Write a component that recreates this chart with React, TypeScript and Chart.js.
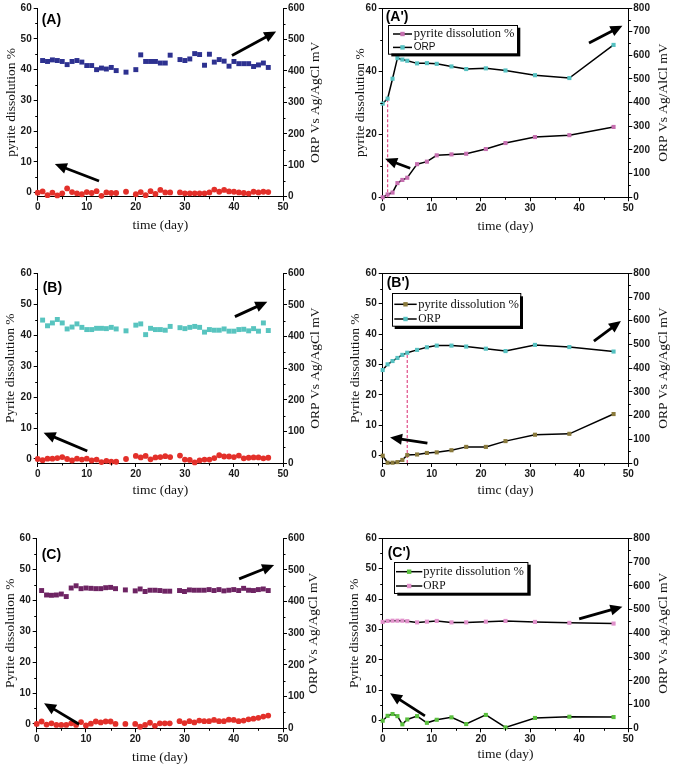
import React, { useEffect, useRef } from "react";
import { Chart, registerables } from "chart.js";
Chart.register(...registerables);

// ---------------- data ----------------
const scatterOrpDays = [1, 2, 3, 4, 5, 6, 7, 8, 9, 10, 11, 12, 13, 14, 15, 16, 18, 20, 21, 22, 23, 24, 25, 26, 27, 29, 30, 31, 32, 33, 34, 35, 36, 37, 38, 39, 40, 41, 42, 43, 44, 45, 46, 47];
const scatterPyrDays = [0, 1, 2, 3, 4, 5, 6, 7, 8, 9, 10, 11, 12, 13, 14, 15, 16, 18, 20, 21, 22, 23, 24, 25, 26, 27, 29, 30, 31, 32, 33, 34, 35, 36, 37, 38, 39, 40, 41, 42, 43, 44, 45, 46, 47];
const sampleDays = [0, 1, 2, 3, 4, 5, 7, 9, 11, 14, 17, 21, 25, 31, 38, 47];

const aOrp = [433, 430, 435, 433, 430, 420, 430, 433, 428, 417, 417, 404, 409, 406, 411, 401, 396, 404, 451, 430, 430, 430, 425, 425, 450, 436, 433, 438, 455, 452, 418, 453, 428, 436, 431, 415, 430, 423, 423, 423, 414, 419, 425, 411];
const aPyr = [0, 0.4, -0.8, 0, -0.9, -0.2, 1.4, 0.2, -0.2, -0.5, 0.2, -0.1, 0.5, -1.0, 0.1, -0.1, -0.1, 0.3, -0.5, 0.2, -0.8, 0.5, -0.4, 0.9, 0.1, 0.1, 0.1, -0.2, -0.2, -0.2, -0.2, -0.2, 0.1, 1.0, 0.3, 0.9, 0.4, 0.3, 0.1, -0.1, -0.3, 0.3, 0.1, 0.3, 0.2];

const bOrp = [452, 434, 443, 454, 443, 424, 430, 440, 429, 422, 422, 426, 426, 425, 429, 424, 418, 436, 440, 406, 426, 422, 422, 420, 432, 428, 425, 429, 432, 429, 414, 422, 420, 420, 424, 417, 417, 422, 423, 418, 425, 417, 443, 419];
const bPyr = [0, -0.4, 0.1, 0.1, 0.3, 0.6, 0, -0.5, 0.1, -0.2, 0.1, -0.5, -0.2, -1.0, -0.6, -0.9, -0.9, 0, 1.0, 0.5, 1.0, -0.1, 0.5, 0.6, 0.9, 0.6, 1.1, -0.2, -0.3, -1.1, -0.5, -0.2, -0.2, 0.3, 1.2, 0.8, 0.8, 0.6, 1.1, 0.2, 0.4, 0.5, 0.5, 0.2, 0.4];

const cOrp = [435, 421, 420, 421, 424, 416, 443, 450, 441, 443, 442, 441, 441, 444, 445, 441, 437, 434, 440, 432, 436, 436, 435, 433, 433, 435, 432, 437, 436, 436, 436, 438, 435, 438, 434, 436, 438, 435, 442, 436, 435, 438, 440, 435];
const cPyr = [0, 0.8, -0.2, 0.2, -0.3, -0.3, -0.3, 0.2, -0.3, 0.6, -0.5, 0.1, 0.8, 0.5, 0.8, 0.8, 0, 0, 0, -0.9, -0.3, 0.4, -0.6, 0.2, 0.2, 0.2, 0.9, 0.3, 0.9, 0.5, 1.1, 0.9, 0.9, 1.3, 0.9, 0.9, 1.4, 1.3, 0.9, 1.1, 1.5, 1.7, 2.0, 2.4, 2.7];

const a2Pyr = [0, 0.9, 1.5, 4.5, 5.5, 6.2, 10.5, 11.3, 13.3, 13.6, 13.8, 15.3, 17.2, 19.1, 19.7, 22.3];
const a2Orp = [396, 417, 501, 588, 582, 577, 566, 567, 564, 553, 542, 545, 536, 516, 504, 644];
const b2Pyr = [0, -2.3, -2.3, -2.1, -1.4, 0.2, 0.4, 0.9, 1.1, 1.8, 2.9, 2.9, 4.8, 6.9, 7.2, 13.7];
const b2Orp = [392, 416, 430, 443, 456, 465, 477, 488, 495, 495, 491, 482, 472, 498, 489, 470];
const c2Pyr = [0, 1.6, 2.2, 1.5, -1.2, 0.4, 1.5, -0.7, 0.3, 1.1, -1.1, 1.9, -2.2, 0.9, 1.3, 1.2];
const c2Orp = [448, 452, 453, 453, 453, 451, 446, 449, 452, 446, 446, 449, 452, 448, 444, 441];

const a2MarkDay = [1, 1];
const a2MarkOrp = [0, 417];
const b2MarkDay = [5, 5];
const b2MarkOrp = [0, 465];

const xTicks = [0, 10, 20, 30, 40, 50];
const leftTicks10 = [0, 10, 20, 30, 40, 50, 60];
const leftTicks20 = [0, 20, 40, 60];
const rightTicks600 = [0, 100, 200, 300, 400, 500, 600];
const rightTicks800 = [0, 100, 200, 300, 400, 500, 600, 700, 800];

// ---------------- helpers ----------------
const SANS = "'Liberation Sans', Arial, sans-serif";
const SERIF = "'Liberation Serif', 'Times New Roman', serif";
const RED = "#e3302a";

const pts = (xs: number[], ys: number[]) => xs.map((x, i) => ({ x, y: ys[i] }));

function scatterSet(label: string, xs: number[], ys: number[], color: string, style: string, r: number, axis: string) {
  return {
    label, data: pts(xs, ys), yAxisID: axis, showLine: false, pointStyle: style, pointRadius: r,
    pointBackgroundColor: color, pointBorderColor: color, pointBorderWidth: 0, borderWidth: 0, clip: false,
  };
}
function lineSet(label: string, xs: number[], ys: number[], color: string, axis: string) {
  return {
    label, data: pts(xs, ys), yAxisID: axis, showLine: true, borderColor: "#000", borderWidth: 1.5,
    pointStyle: "rect", pointRadius: 2.9, pointBackgroundColor: color, pointBorderColor: color,
    pointBorderWidth: 0, tension: 0, clip: false, order: 1,
  };
}
function dashSet(xs: number[], ys: number[]) {
  return {
    label: "", data: pts(xs, ys), yAxisID: "y1", showLine: true, borderColor: "#e0508a", borderWidth: 1.2,
    borderDash: [3, 2], pointRadius: 0, tension: 0, clip: false, order: 10,
  };
}

type Box = { left: number; top: number; width: number; height: number };
type Area = { l: number; t: number; r: number; b: number };
type Legend = { dx: number; dy: number; w: number; h: number; lx0: number; lx1: number; tx: number; rows: number[]; fonts: string[] };
type Panel = {
  key: string; box: Box; area: Area; leftMin: number; leftTicks: number[]; rightMax: number; rightTicks: number[];
  xTitle: string; yTitle: string; y1Title: string; titles: { lx: number; rx: number; xy: number };
  label: string; labelOff: [number, number]; arrows: number[][]; datasets: any[]; legend?: Legend; topBorder: boolean;
};

const panels: Panel[] = [
  {
    key: "A", box: { left: 0, top: 0, width: 337, height: 250 }, area: { l: 37.7, t: 7.3, r: 283, b: 196.7 },
    leftMin: -1.3, leftTicks: leftTicks10, rightMax: 600, rightTicks: rightTicks600, topBorder: false,
    xTitle: "time (day)", yTitle: "pyrite dissolution %", y1Title: "ORP Vs Ag/AgCl mV", titles: { lx: 11, rx: 315, xy: 225 },
    label: "(A)", labelOff: [4, 12], arrows: [[39.6, 44.6, 48.6, 52.4], [12.5, 3.8, 3.5, 9.3]],
    datasets: [scatterSet("ORP", scatterOrpDays, aOrp, "#2d3190", "rect", 3.5, "y1"), scatterSet("pyrite", scatterPyrDays, aPyr, RED, "circle", 2.9, "y")],
  },
  {
    key: "A2", box: { left: 337, top: 0, width: 338, height: 250 }, area: { l: 382.7, t: 7.3, r: 628.3, b: 197.3 },
    leftMin: 0, leftTicks: leftTicks20, rightMax: 800, rightTicks: rightTicks800, topBorder: true,
    xTitle: "time (day)", yTitle: "pyrite dissolution %", y1Title: "ORP Vs Ag/AlCl mV", titles: { lx: 360, rx: 663, xy: 226.5 },
    label: "(A')", labelOff: [3, 9.5], arrows: [[42, 48.9, 48.8, 54.4], [5.6, 9.2, 0.5, 12.2]],
    datasets: [lineSet("pyrite dissolution %", sampleDays, a2Pyr, "#c66fb0", "y"), lineSet("ORP", sampleDays, a2Orp, "#55c1c1", "y1"), dashSet(a2MarkDay, a2MarkOrp)],
    legend: { dx: 5.6, dy: 16.7, w: 129, h: 28.7, lx0: 4.7, lx1: 23.7, tx: 25.5, rows: [9.3, 22.7], fonts: [`12.5px ${SERIF}`, `10px ${SANS}`] },
  },
  {
    key: "B", box: { left: 0, top: 255, width: 337, height: 250 }, area: { l: 37.7, t: 273.3, r: 283, b: 463 },
    leftMin: -1.3, leftTicks: leftTicks10, rightMax: 600, rightTicks: rightTicks600, topBorder: false,
    xTitle: "timc (day)", yTitle: "Pyrite dissolution %", y1Title: "ORP Vs Ag/AgCl mV", titles: { lx: 10, rx: 315, xy: 490 },
    label: "(B)", labelOff: [5, 14.5], arrows: [[40.2, 46, 46.8, 50.8], [10.1, 2.6, 1.2, 8.5]],
    datasets: [scatterSet("ORP", scatterOrpDays, bOrp, "#58c4bf", "rect", 3.5, "y1"), scatterSet("pyrite", scatterPyrDays, bPyr, RED, "circle", 2.9, "y")],
  },
  {
    key: "B2", box: { left: 337, top: 255, width: 338, height: 250 }, area: { l: 382.7, t: 273.3, r: 628.3, b: 463 },
    leftMin: -2.4, leftTicks: leftTicks10, rightMax: 800, rightTicks: rightTicks800, topBorder: true,
    xTitle: "timc (day)", yTitle: "Pyrite dissolution %", y1Title: "ORP Vs Ag/AgCl mV", titles: { lx: 355, rx: 663, xy: 490 },
    label: "(B')", labelOff: [4, 9.7], arrows: [[43, 37.7, 48.5, 44.3], [9.1, 4.1, 1.5, 6.0]],
    datasets: [lineSet("pyrite dissolution %", sampleDays, b2Pyr, "#8a7a3c", "y"), lineSet("ORP", sampleDays, b2Orp, "#55c1c1", "y1"), dashSet(b2MarkDay, b2MarkOrp)],
    legend: { dx: 9, dy: 20, w: 128.3, h: 32.7, lx0: 2.6, lx1: 25, tx: 26.6, rows: [11, 25.7], fonts: [`12.5px ${SERIF}`, `11.5px ${SERIF}`] },
  },
  {
    key: "C", box: { left: 0, top: 510, width: 337, height: 257 }, area: { l: 36.7, t: 538.3, r: 283, b: 728.3 },
    leftMin: -1.4, leftTicks: leftTicks10, rightMax: 600, rightTicks: rightTicks600, topBorder: false,
    xTitle: "time (day)", yTitle: "Pyrite dissolution %", y1Title: "ORP Vs Ag/AgCl mV", titles: { lx: 10, rx: 313, xy: 757 },
    label: "(C)", labelOff: [5, 16.4], arrows: [[41.1, 46.9, 48.2, 51.4], [8.6, -0.1, 1.5, 6.7]],
    datasets: [scatterSet("ORP", scatterOrpDays, cOrp, "#6e2463", "rect", 3.5, "y1"), scatterSet("pyrite", scatterPyrDays, cPyr, RED, "circle", 2.9, "y")],
  },
  {
    key: "C2", box: { left: 337, top: 510, width: 338, height: 257 }, area: { l: 382.7, t: 538.3, r: 628.3, b: 728.3 },
    leftMin: -2.5, leftTicks: leftTicks10, rightMax: 800, rightTicks: rightTicks800, topBorder: true,
    xTitle: "time (day)", yTitle: "Pyrite dissolution %", y1Title: "ORP Vs Ag/AgCl mV", titles: { lx: 354, rx: 663, xy: 754 },
    label: "(C')", labelOff: [5, 14.5], arrows: [[40, 33.5, 48.8, 37.5], [8.6, 1.6, 1.5, 9.0]],
    datasets: [lineSet("pyrite dissolution %", sampleDays, c2Pyr, "#5abf3e", "y"), lineSet("ORP", sampleDays, c2Orp, "#e191cb", "y1")],
    legend: { dx: 11.6, dy: 23.4, w: 133.4, h: 31, lx0: 1.7, lx1: 28, tx: 29, rows: [10, 24.3], fonts: [`12.5px ${SERIF}`, `11.5px ${SERIF}`] },
  },
];

function drawArrow(ctx: CanvasRenderingContext2D, x1: number, y1: number, x2: number, y2: number) {
  const ang = Math.atan2(y2 - y1, x2 - x1);
  const hl = 12, hw = 5.5;
  const c = Math.cos(ang), s = Math.sin(ang);
  const bx = x2 - hl * c, by = y2 - hl * s;
  ctx.save();
  ctx.strokeStyle = "#000";
  ctx.fillStyle = "#000";
  ctx.lineWidth = 2.8;
  ctx.beginPath();
  ctx.moveTo(x1, y1);
  ctx.lineTo(bx + c, by + s);
  ctx.stroke();
  ctx.beginPath();
  ctx.moveTo(x2, y2);
  ctx.lineTo(bx - hw * s, by + hw * c);
  ctx.lineTo(bx + hw * s, by - hw * c);
  ctx.closePath();
  ctx.fill();
  ctx.restore();
}

function makeDecor(p: Panel) {
  return {
    id: "decor" + p.key,
    afterDraw(chart: any) {
      const ctx: CanvasRenderingContext2D = chart.ctx;
      const ca = chart.chartArea;
      const sx = chart.scales.x, sy = chart.scales.y, sy1 = chart.scales.y1;
      ctx.save();
      // minor ticks + optional top border
      ctx.strokeStyle = "#000";
      ctx.lineWidth = 1;
      ctx.beginPath();
      for (let i = 0; i < xTicks.length - 1; i++) {
        const px = Math.round(sx.getPixelForValue((xTicks[i] + xTicks[i + 1]) / 2)) + 0.5;
        ctx.moveTo(px, ca.bottom); ctx.lineTo(px, ca.bottom + 2.5);
      }
      for (let i = 0; i < p.leftTicks.length - 1; i++) {
        const py = Math.round(sy.getPixelForValue((p.leftTicks[i] + p.leftTicks[i + 1]) / 2)) + 0.5;
        ctx.moveTo(ca.left, py); ctx.lineTo(ca.left - 2.5, py);
      }
      for (let i = 0; i < p.rightTicks.length - 1; i++) {
        const py = Math.round(sy1.getPixelForValue((p.rightTicks[i] + p.rightTicks[i + 1]) / 2)) + 0.5;
        ctx.moveTo(ca.right, py); ctx.lineTo(ca.right + 2.5, py);
      }
      if (p.topBorder) {
        const ty = Math.round(ca.top) + 0.5;
        ctx.moveTo(ca.left, ty); ctx.lineTo(ca.right, ty);
      }
      ctx.stroke();

      // axis titles
      ctx.fillStyle = "#111";
      ctx.font = `13.5px ${SERIF}`;
      ctx.textAlign = "center";
      ctx.textBaseline = "middle";
      const cy = (ca.top + ca.bottom) / 2;
      ctx.save(); ctx.translate(p.titles.lx - p.box.left, cy); ctx.rotate(-Math.PI / 2); ctx.fillText(p.yTitle, 0, 0); ctx.restore();
      ctx.save(); ctx.translate(p.titles.rx - p.box.left, cy); ctx.rotate(-Math.PI / 2); ctx.fillText(p.y1Title, 0, 0); ctx.restore();
      ctx.fillText(p.xTitle, (ca.left + ca.right) / 2, p.titles.xy - p.box.top);

      // panel label
      ctx.font = `bold 14px ${SANS}`;
      ctx.textAlign = "left";
      ctx.fillStyle = "#000";
      ctx.fillText(p.label, ca.left + p.labelOff[0], ca.top + p.labelOff[1]);

      // arrows
      for (const a of p.arrows) {
        drawArrow(ctx, sx.getPixelForValue(a[0]), sy.getPixelForValue(a[1]), sx.getPixelForValue(a[2]), sy.getPixelForValue(a[3]));
      }

      // legend
      const lg = p.legend;
      if (lg) {
        const bx = ca.left + lg.dx, by = ca.top + lg.dy;
        ctx.fillStyle = "#000";
        ctx.fillRect(bx + 3, by + 3, lg.w, lg.h);
        ctx.fillStyle = "#fff";
        ctx.fillRect(bx, by, lg.w, lg.h);
        ctx.strokeStyle = "#000";
        ctx.lineWidth = 1;
        ctx.strokeRect(Math.round(bx) + 0.5, Math.round(by) + 0.5, lg.w, lg.h);
        for (let i = 0; i < 2; i++) {
          const ds = p.datasets[i];
          const ry = by + lg.rows[i];
          ctx.strokeStyle = "#000";
          ctx.lineWidth = 1.5;
          ctx.beginPath();
          ctx.moveTo(bx + lg.lx0, ry); ctx.lineTo(bx + lg.lx1, ry);
          ctx.stroke();
          ctx.fillStyle = ds.pointBackgroundColor;
          const mx = bx + (lg.lx0 + lg.lx1) / 2;
          ctx.fillRect(mx - 2.2, ry - 2.2, 4.4, 4.4);
          ctx.fillStyle = "#111";
          ctx.font = lg.fonts[i];
          ctx.textAlign = "left";
          ctx.textBaseline = "middle";
          ctx.fillText(ds.label, bx + lg.tx, ry);
        }
      }
      ctx.restore();
    },
  };
}

function axisCommon() {
  return {
    ticks: { font: { family: SANS, size: 10, weight: "bold" }, color: "#1a1a1a", autoSkip: false, maxRotation: 0, callback: (v: any) => String(v) },
    grid: { drawOnChartArea: false, drawTicks: true, tickLength: 4, color: "#000", lineWidth: 1 },
    border: { display: true, color: "#000", width: 1 },
    title: { display: false },
  };
}

function buildConfig(p: Panel): any {
  const base = axisCommon();
  return {
    type: "line",
    data: { datasets: p.datasets },
    options: {
      animation: false,
      responsive: false,
      maintainAspectRatio: false,
      events: [],
      layout: { padding: { top: p.area.t - p.box.top, left: 0, right: 0, bottom: 0 } },
      plugins: { legend: { display: false }, tooltip: { enabled: false } },
      scales: {
        x: {
          ...base, type: "linear", min: 0, max: 50, ticks: { ...base.ticks, padding: 1 },
          afterBuildTicks: (s: any) => { s.ticks = xTicks.map((v) => ({ value: v })); },
          afterFit: (s: any) => { s.height = p.box.top + p.box.height - p.area.b; },
        },
        y: {
          ...base, type: "linear", position: "left", min: p.leftMin, max: 60, ticks: { ...base.ticks, padding: 2 },
          afterBuildTicks: (s: any) => { s.ticks = p.leftTicks.map((v) => ({ value: v })); },
          afterFit: (s: any) => { s.width = p.area.l - p.box.left; },
        },
        y1: {
          ...base, type: "linear", position: "right", min: 0, max: p.rightMax, ticks: { ...base.ticks, padding: 1 },
          afterBuildTicks: (s: any) => { s.ticks = p.rightTicks.map((v) => ({ value: v })); },
          afterFit: (s: any) => { s.width = p.box.left + p.box.width - p.area.r; },
        },
      },
    },
    plugins: [makeDecor(p)],
  };
}

function PanelChart({ p }: { p: Panel }) {
  const ref = useRef<HTMLCanvasElement>(null);
  useEffect(() => {
    const chart = new Chart(ref.current as HTMLCanvasElement, buildConfig(p));
    return () => chart.destroy();
  }, [p]);
  return (
    <div style={{ position: "absolute", left: p.box.left, top: p.box.top, width: p.box.width, height: p.box.height }}>
      <canvas ref={ref} width={p.box.width} height={p.box.height} style={{ display: "block" }} />
    </div>
  );
}

export default function App() {
  return (
    <div style={{ position: "absolute", left: 0, top: 0, width: 675, height: 767, background: "#fff", overflow: "hidden" }}>
      {panels.map((p) => (
        <PanelChart key={p.key} p={p} />
      ))}
    </div>
  );
}
